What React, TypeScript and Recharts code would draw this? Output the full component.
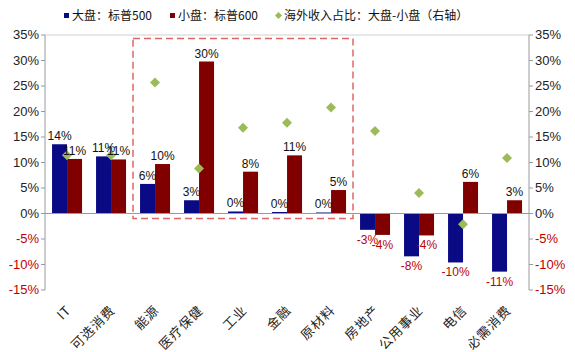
import React from 'react';
import {
  ComposedChart,
  Bar,
  Scatter,
  XAxis,
  YAxis,
  ReferenceLine,
  ReferenceArea,
  LabelList,
} from 'recharts';

const sectors = ['IT', '可选消费', '能源', '医疗保健', '工业', '金融', '原材料', '房地产', '公用事业', '电信', '必需消费'];
const largeCap = [13.6, 11.2, 5.8, 2.6, 0.4, 0.3, 0.2, -3.2, -8.4, -9.6, -11.4];
const smallCap = [10.7, 10.6, 9.7, 29.8, 8.2, 11.4, 4.6, -4.2, -4.3, 6.2, 2.6];
const overseasDiff = [11.4, 11.4, 25.7, 8.8, 16.8, 17.8, 20.8, 16.2, 4.0, -2.1, 10.9];
const yTicks = [-15, -10, -5, 0, 5, 10, 15, 20, 25, 30, 35];

const data = sectors.map((name, i) => ({
  name,
  large: largeCap[i],
  small: smallCap[i],
  diff: overseasDiff[i],
}));

const BLUE = '#0A0A84';
const RED = '#800000';
const GREEN = '#9BBB59';
const NEG = '#C00000';
const AXIS = '#9a9a9a';

const YTick = ({ x, y, payload, textAnchor }: any) => (
  <text x={x} y={y} dy={4} textAnchor={textAnchor} fontSize={13} fontFamily="Arial"
    fill={payload.value < 0 ? NEG : '#222'}>
    {payload.value}%
  </text>
);

const XTick = ({ x, y, payload }: any) => (
  <g transform={`translate(${x + 5},${y + 13})`}>
    <text transform="rotate(-45)" textAnchor="end" fontSize={13} letterSpacing={1}
      fontFamily="'Noto Sans CJK SC', sans-serif" fill="#222">
      {payload.value}
    </text>
  </g>
);

const BarLabel = ({ x, y, width, height, value }: any) => {
  const neg = value < 0;
  const cx = x + width / 2;
  const top = Math.min(y, y + height);
  const bottom = Math.max(y, y + height);
  const ty = neg ? bottom + 14 : top - 4;
  return (
    <text x={cx} y={ty} textAnchor="middle" fontSize={12} fontFamily="Arial" fill={neg ? NEG : '#111'}>
      {Math.round(value)}%
    </text>
  );
};

const Diamond = ({ cx, cy }: any) => (
  <polygon points={`${cx},${cy - 5} ${cx + 5},${cy} ${cx},${cy + 5} ${cx - 5},${cy}`} fill={GREEN} />
);

const legendItems = [
  { label: '大盘：标普500', color: BLUE, diamond: false },
  { label: '小盘：标普600', color: RED, diamond: false },
  { label: '海外收入占比：大盘-小盘（右轴）', color: GREEN, diamond: true },
];

export default function App() {
  return (
    <div style={{ position: 'relative', width: 559, height: 344, background: '#fff' }}>
      <div style={{ position: 'absolute', top: 0, left: 56, display: 'flex', gap: 18, fontSize: 12,
        fontFamily: "'Noto Sans CJK SC', sans-serif", color: '#111', lineHeight: '14px' }}>
        {legendItems.map((it) => (
          <div key={it.label} style={{ display: 'flex', alignItems: 'center', gap: 3 }}>
            <span style={{ width: 5, height: 5, background: it.color,
              transform: it.diamond ? 'rotate(45deg)' : undefined, display: 'inline-block' }} />
            <span>{it.label}</span>
          </div>
        ))}
      </div>
      <ComposedChart width={559} height={344} data={data}
        margin={{ top: 27, right: 0, left: 0, bottom: 0 }}
        barCategoryGap="16%" barGap={0}>
        <XAxis dataKey="name" height={62} axisLine={false} tickLine={false} tick={<XTick />} interval={0} />
        <YAxis yAxisId="left" width={37} domain={[-15, 35]} ticks={yTicks} interval={0}
          axisLine={{ stroke: AXIS }} tickLine={{ stroke: AXIS }} tickSize={4} tick={<YTick />} />
        <YAxis yAxisId="right" orientation="right" width={38} domain={[-15, 35]} ticks={yTicks} interval={0}
          axisLine={{ stroke: AXIS }} tickLine={{ stroke: AXIS }} tickSize={4} tick={<YTick />} />
        <ReferenceLine yAxisId="left" y={35} stroke="#d0d0d0" />
        <ReferenceLine yAxisId="left" y={0} stroke={AXIS} />
        <Bar yAxisId="left" dataKey="large" fill={BLUE} isAnimationActive={false}>
          <LabelList dataKey="large" content={<BarLabel />} />
        </Bar>
        <Bar yAxisId="left" dataKey="small" fill={RED} isAnimationActive={false}>
          <LabelList dataKey="small" content={<BarLabel />} />
        </Bar>
        <Scatter yAxisId="right" dataKey="diff" fill={GREEN} shape={<Diamond />} isAnimationActive={false} />
        <ReferenceArea yAxisId="left" x1="能源" x2="原材料" y1={-1} y2={34.3} fill="none"
          stroke="#E06666" strokeWidth={1.5} strokeDasharray="7 4" ifOverflow="visible" />
      </ComposedChart>
    </div>
  );
}
